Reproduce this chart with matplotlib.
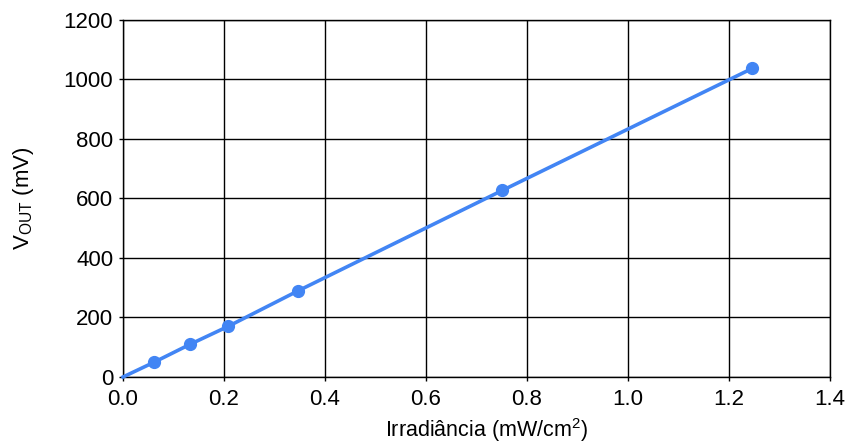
import matplotlib
matplotlib.use("Agg")
import matplotlib.pyplot as plt

# Datos
irradiancia = [0.0, 0.062, 0.133, 0.208, 0.346, 0.751, 1.246]
vout = [0, 50, 110, 170, 289, 627, 1037]

plt.rcParams['font.family'] = ['Liberation Sans', 'DejaVu Sans']
plt.rcParams['mathtext.default'] = 'regular'

fig = plt.figure(figsize=(8.46, 4.48), dpi=100)
ax = fig.add_axes([0.1454, 0.1585, 0.8356, 0.7969])

azul = '#4285F4'
ax.plot(irradiancia, vout, color=azul, lw=2.6, zorder=3, clip_on=False)
ax.plot(irradiancia[1:], vout[1:], 'o', color=azul, ms=8.5, zorder=4, clip_on=False)

ax.set_xlim(0, 1.4)
ax.set_ylim(0, 1200)
ax.set_xticks([0.0, 0.2, 0.4, 0.6, 0.8, 1.0, 1.2, 1.4])
ax.set_xticklabels(['0.0', '0.2', '0.4', '0.6', '0.8', '1.0', '1.2', '1.4'])
ax.set_yticks(range(0, 1201, 200))
ax.grid(True, color='black', lw=1.0)
ax.set_axisbelow(True)
for s in ax.spines.values():
    s.set_color('black')
    s.set_linewidth(1.0)
ax.tick_params(labelsize=16, length=3, width=1)
ax.tick_params(axis='x', pad=6)
ax.tick_params(axis='y', pad=4)

ax.set_xlabel('Irradiância (mW/cm$^{2}$)', fontsize=15.5)
ax.xaxis.set_label_coords(0.515, -0.11)
ax.set_ylabel('V$_{OUT}$ (mV)', fontsize=16, labelpad=20)

fig.savefig('out.png', dpi=100)
